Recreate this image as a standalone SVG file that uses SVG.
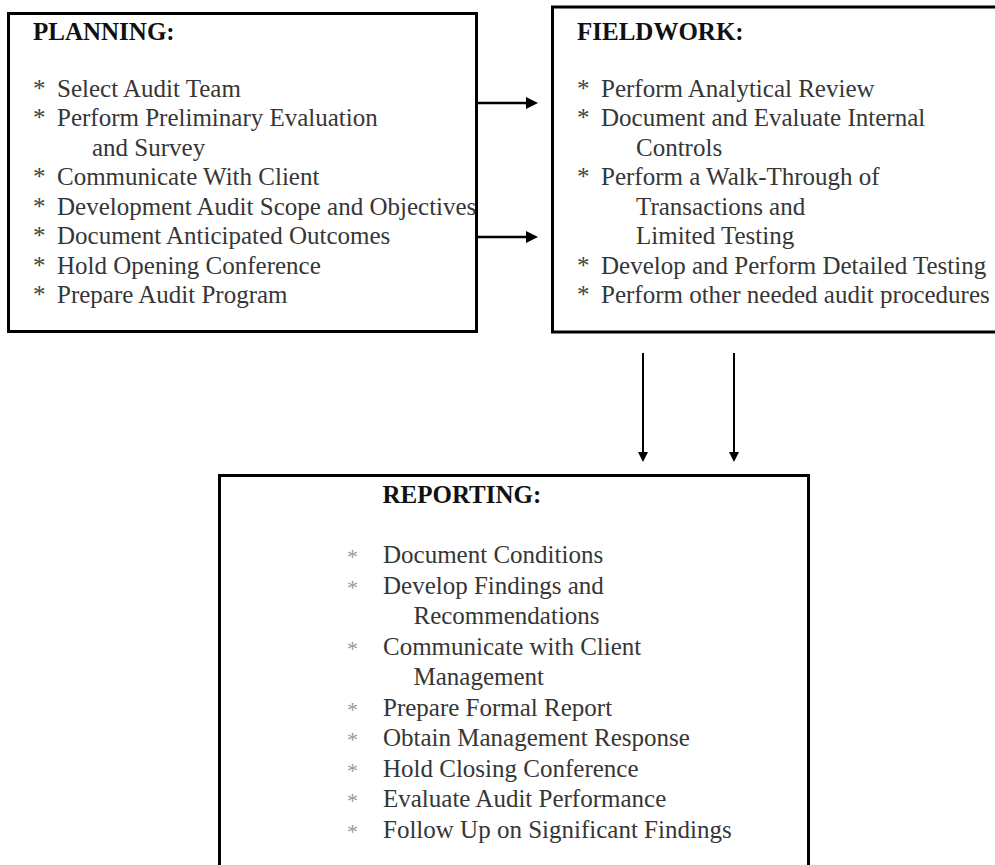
<svg xmlns="http://www.w3.org/2000/svg" width="995" height="865" viewBox="0 0 995 865">
  <style>
    .box { fill: #ffffff; stroke: #000000; stroke-width: 3; }
    .head { font-family: "Liberation Serif", "Times New Roman", serif; font-size: 25px; font-weight: bold; fill: #111111; }
    .item { font-family: "Liberation Serif", "Times New Roman", serif; font-size: 25px; fill: #363636; }
    .star { font-family: "Liberation Serif", "Times New Roman", serif; font-size: 25px; fill: #444444; }
    .star2 { font-family: "Liberation Serif", "Times New Roman", serif; font-size: 22px; fill: #999999; }
    .conn { stroke: #000000; fill: none; }
  </style>
  <defs>
    <marker id="ah" markerUnits="userSpaceOnUse" markerWidth="12" markerHeight="12" viewBox="0 0 12 12" refX="0" refY="6" orient="auto">
      <path d="M0,0 L12,6 L0,12 Z" fill="#000000"/>
    </marker>
    <marker id="av" markerUnits="userSpaceOnUse" markerWidth="10" markerHeight="10" viewBox="0 0 10 10" refX="0" refY="5" orient="auto">
      <path d="M0,0 L10,5 L0,10 Z" fill="#000000"/>
    </marker>
  </defs>
  <rect width="995" height="865" fill="#ffffff"/>

  <g id="planning">
    <rect class="box" x="8.5" y="13.5" width="468" height="318"/>
    <text class="head" x="33" y="40">PLANNING:</text>
    <text class="star" x="33" y="97">*</text>
    <text class="item" x="57" y="97">Select Audit Team</text>
    <text class="star" x="33" y="126">*</text>
    <text class="item" x="57" y="126">Perform Preliminary Evaluation</text>
    <text class="item" x="92" y="155.5">and Survey</text>
    <text class="star" x="33" y="185">*</text>
    <text class="item" x="57" y="185">Communicate With Client</text>
    <text class="star" x="33" y="214.5">*</text>
    <text class="item" x="57" y="214.5">Development Audit Scope and Objectives</text>
    <text class="star" x="33" y="244">*</text>
    <text class="item" x="57" y="244">Document Anticipated Outcomes</text>
    <text class="star" x="33" y="273.5">*</text>
    <text class="item" x="57" y="273.5">Hold Opening Conference</text>
    <text class="star" x="33" y="303">*</text>
    <text class="item" x="57" y="303">Prepare Audit Program</text>
  </g>

  <g id="fieldwork">
    <rect class="box" x="552.5" y="7" width="460" height="325"/>
    <text class="head" x="577" y="40">FIELDWORK:</text>
    <text class="star" x="577" y="97">*</text>
    <text class="item" x="601" y="97">Perform Analytical Review</text>
    <text class="star" x="577" y="126">*</text>
    <text class="item" x="601" y="126">Document and Evaluate Internal</text>
    <text class="item" x="636" y="155.5">Controls</text>
    <text class="star" x="577" y="185">*</text>
    <text class="item" x="601" y="185">Perform a Walk-Through of</text>
    <text class="item" x="636" y="214.5">Transactions and</text>
    <text class="item" x="636" y="244">Limited Testing</text>
    <text class="star" x="577" y="273.5">*</text>
    <text class="item" x="601" y="273.5">Develop and Perform Detailed Testing</text>
    <text class="star" x="577" y="303">*</text>
    <text class="item" x="601" y="303">Perform other needed audit procedures</text>
  </g>

  <g id="reporting">
    <rect class="box" x="219.5" y="475.5" width="589" height="420"/>
    <text class="head" x="382.5" y="502.5">REPORTING:</text>
    <text class="star2" x="347" y="564">*</text>
    <text class="item" x="383" y="563">Document Conditions</text>
    <text class="star2" x="347" y="595">*</text>
    <text class="item" x="383" y="594">Develop Findings and</text>
    <text class="item" x="413.5" y="624">Recommendations</text>
    <text class="star2" x="347" y="655.5">*</text>
    <text class="item" x="383" y="654.5">Communicate with Client</text>
    <text class="item" x="413.5" y="685">Management</text>
    <text class="star2" x="347" y="716.5">*</text>
    <text class="item" x="383" y="715.5">Prepare Formal Report</text>
    <text class="star2" x="347" y="747">*</text>
    <text class="item" x="383" y="746">Obtain Management Response</text>
    <text class="star2" x="347" y="777.5">*</text>
    <text class="item" x="383" y="776.5">Hold Closing Conference</text>
    <text class="star2" x="347" y="808">*</text>
    <text class="item" x="383" y="807">Evaluate Audit Performance</text>
    <text class="star2" x="347" y="838.5">*</text>
    <text class="item" x="383" y="837.5">Follow Up on Significant Findings</text>
  </g>

  <g id="connectors">
    <line class="conn" stroke-width="2.7" x1="478" y1="103" x2="526" y2="103" marker-end="url(#ah)"/>
    <line class="conn" stroke-width="2.7" x1="478" y1="237" x2="526" y2="237" marker-end="url(#ah)"/>
    <line class="conn" stroke-width="2" x1="643" y1="353" x2="643" y2="452" marker-end="url(#av)"/>
    <line class="conn" stroke-width="2" x1="734" y1="353" x2="734" y2="452" marker-end="url(#av)"/>
  </g>
</svg>
